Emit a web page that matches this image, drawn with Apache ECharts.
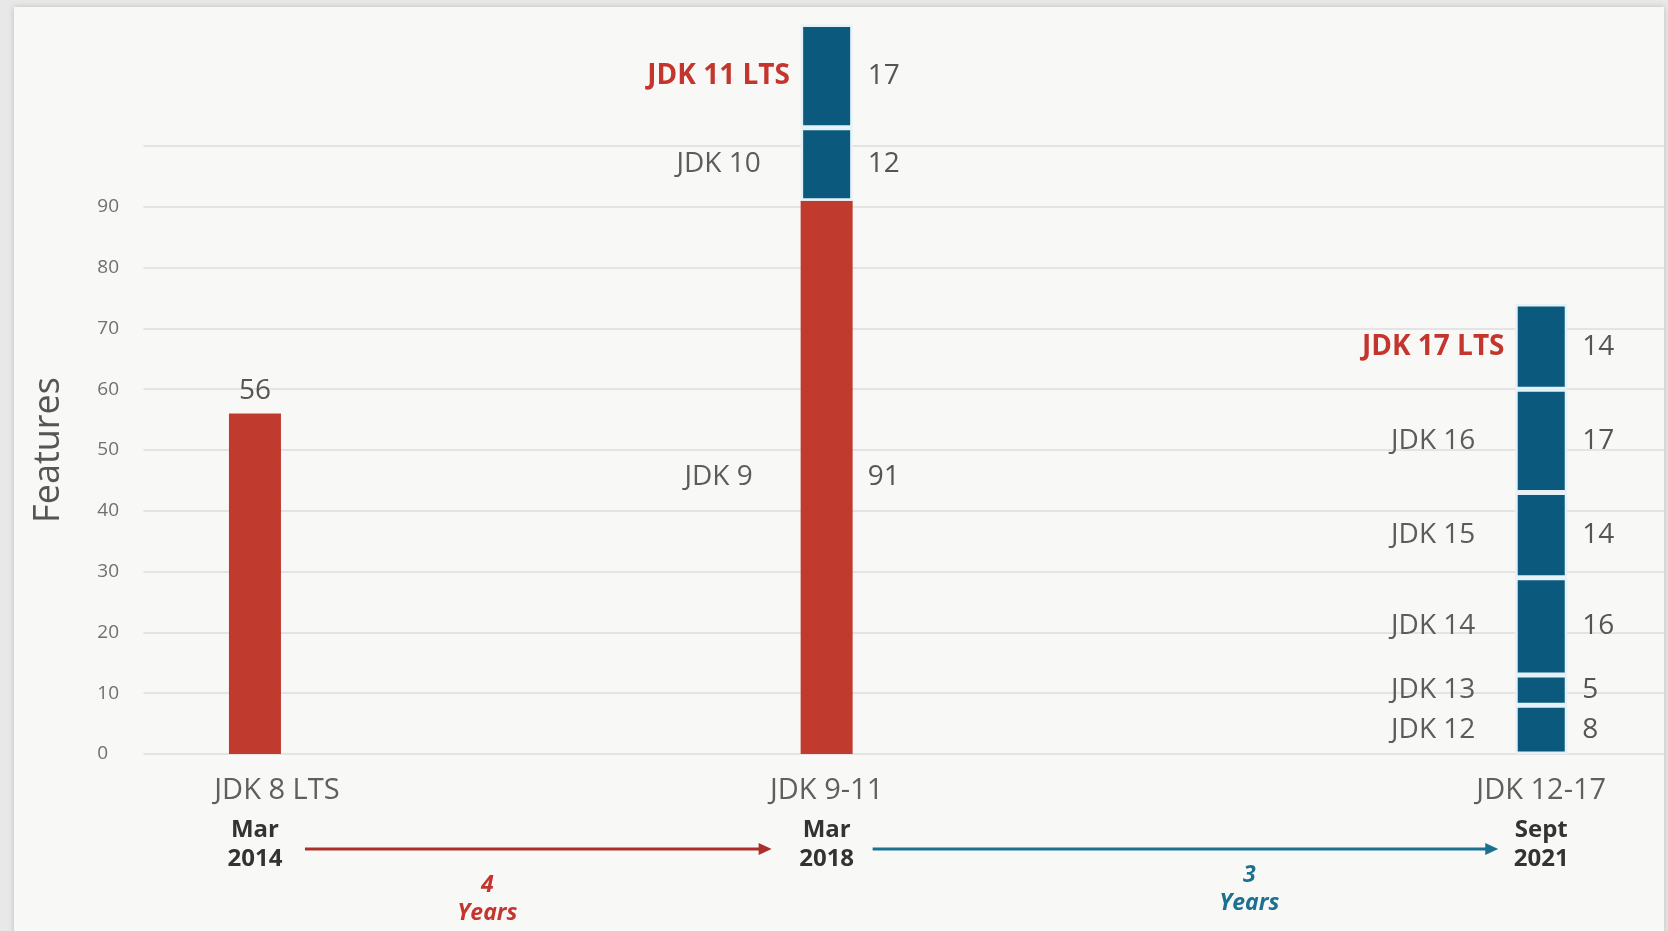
<!DOCTYPE html>
<html>
<head>
<meta charset="utf-8">
<script src="https://cdn.jsdelivr.net/npm/echarts@6/dist/echarts.min.js"></script>
<style>
  html, body { margin: 0; padding: 0; width: 1668px; height: 931px; background: #e8e8e8; overflow: hidden; }
  #card { position: absolute; left: 14px; top: 7px; width: 1650px; height: 930px; background: #f8f8f7; box-shadow: 0 0 6px rgba(0,0,0,0.18); }
  #chart { position: absolute; left: 0; top: 0; width: 1668px; height: 931px; }
</style>
</head>
<body>
<div id="card"></div>
<div id="chart"></div>
<script>
// ---------------- data ----------------
const groups = ['JDK 8 LTS', 'JDK 9-11', 'JDK 12-17'];
const groupMonths = ['Mar', 'Mar', 'Sept'];
const groupYears = ['2014', '2018', '2021'];
const releaseNames = ['JDK 8', 'JDK 9', 'JDK 10', 'JDK 11 LTS', 'JDK 12', 'JDK 13', 'JDK 14', 'JDK 15', 'JDK 16', 'JDK 17 LTS'];
const releaseGroup = [0, 1, 1, 1, 2, 2, 2, 2, 2, 2];
const featureCounts = [56, 91, 12, 17, 8, 5, 16, 14, 17, 14];
const gapYears = ['4', '3'];
const gapUnit = 'Years';
const yAxisName = 'Features';
const yTickLabels = ['0', '10', '20', '30', '40', '50', '60', '70', '80', '90'];

// ---------------- layout / style ----------------
const FONT = '"Open Sans", "Noto Sans", sans-serif';
const RED = '#c13a2e';
const BLUE = '#0b5a7e';
const TEAL = '#1b718f';
const groupSlots = [0, 4, 9];          // uneven spacing of the three groups along the axis
const slotCount = 10;
const redBars = new Set(['JDK 8', 'JDK 9']);

const axisCats = [];
for (let i = 0; i < slotCount; i++) axisCats.push('');
groups.forEach((g, i) => { axisCats[groupSlots[i]] = g; });

function seriesData(i) {
  const arr = new Array(slotCount).fill('-');
  arr[groupSlots[releaseGroup[i]]] = featureCounts[i];
  return arr;
}

const series = [];
releaseNames.forEach((name, i) => {
  const isRed = redBars.has(name);
  const isLTS = /LTS/.test(name);
  const single = releaseNames.filter((n, j) => releaseGroup[j] === releaseGroup[i]).length === 1;
  series.push({
    name: name,
    type: 'bar',
    xAxisIndex: 1, yAxisIndex: 1,
    stack: 'bars',
    barWidth: 52,
    barGap: '-100%',
    data: seriesData(i),
    itemStyle: isRed ? { color: RED } : { color: BLUE, borderColor: '#e4f2f7', borderWidth: 2.5 },
    label: single ? {
      show: true, position: 'top', distance: 8,
      formatter: '{c}', fontFamily: FONT, fontSize: 28, color: '#555'
    } : {
      show: true, position: 'left', distance: 82, align: 'center',
      formatter: name,
      fontFamily: FONT, fontSize: 28,
      fontWeight: isLTS ? 'bold' : 'normal',
      color: isLTS ? '#c4352d' : '#5c5c5c'
    },
    emphasis: { disabled: true },
    silent: true
  });
  if (!single) {
    series.push({
      name: name + ' value',
      type: 'bar',
      xAxisIndex: 1, yAxisIndex: 1,
      stack: 'values',
      barWidth: 52,
      barGap: '-100%',
      data: seriesData(i),
      itemStyle: { color: 'rgba(0,0,0,0)' },
      label: {
        show: true, position: 'right', distance: 15,
        formatter: '{c}', fontFamily: FONT, fontSize: 28, color: '#555'
      },
      emphasis: { disabled: true },
      silent: true
    });
  }
});

const chart = echarts.init(document.getElementById('chart'), null, { renderer: 'canvas' });

const option = {
  backgroundColor: 'transparent',
  animation: false,
  grid: [
    { left: 143.3, right: 4, top: 146, bottom: 177 },
    { left: 183.5, right: 55.3, top: 24.4, bottom: 177 }
  ],
  xAxis: [
    { gridIndex: 0, type: 'value', min: 0, max: 1, show: false },
    {
      gridIndex: 1, type: 'category', data: axisCats,
      axisLine: { show: false }, axisTick: { show: false },
      axisLabel: {
        interval: 0, margin: 12,
        formatter: function (v) {
          const g = groups.indexOf(v);
          if (g < 0) return '';
          const cStyle = g === 0 ? 'c0' : 'c';
          return '{' + cStyle + '|' + v + '}\n{d|' + groupMonths[g] + '}\n{d|' + groupYears[g] + '}';
        },
        rich: {
          c: { fontFamily: FONT, fontSize: 29, color: '#5f5f5f', lineHeight: 50 },
          c0: { fontFamily: FONT, fontSize: 29, color: '#5f5f5f', lineHeight: 50, padding: [0, 0, 0, 44] },
          d: { fontFamily: FONT, fontSize: 24, fontWeight: 'bold', color: '#333', lineHeight: 29 }
        }
      }
    }
  ],
  yAxis: [
    {
      gridIndex: 0, type: 'value', min: 0, max: 100, interval: 10,
      name: yAxisName, nameLocation: 'middle', nameRotate: 90, nameGap: 77,
      nameTextStyle: { fontFamily: FONT, fontSize: 36, color: '#555', padding: [0, 0, 0, 0] },
      axisLine: { show: false }, axisTick: { show: false },
      axisLabel: {
        margin: 46, align: 'left',
        fontFamily: FONT, fontSize: 19, color: '#707070', padding: [4, 0, 0, 0],
        formatter: function (v) { const s = String(v); return yTickLabels.indexOf(s) >= 0 ? s : ''; }
      },
      splitLine: { show: true, lineStyle: { color: '#dedede', width: 1.5 } }
    },
    { gridIndex: 1, type: 'value', min: 0, max: 120, show: false, splitLine: { show: false } }
  ],
  series: series
};
chart.setOption(option);

// timeline arrows under the axis, positioned from the category axis
function cx(g) { return chart.convertToPixel({ xAxisIndex: 1 }, groupSlots[g]); }
const base = chart.convertToPixel({ yAxisIndex: 1 }, 0);
const ay = base + 95;
const c0 = cx(0), c1 = cx(1), c2 = cx(2);
function arrow(x1, x2, color) {
  return [
    { type: 'line', shape: { x1: x1, y1: ay, x2: x2 - 10, y2: ay }, style: { stroke: color, lineWidth: 3 }, silent: true },
    { type: 'polygon', shape: { points: [[x2, ay], [x2 - 13, ay - 6], [x2 - 13, ay + 6]] }, style: { fill: color }, silent: true }
  ];
}
function gapLabel(x, y, num, color) {
  return [
    { type: 'text', x: x, y: y, style: { text: num, fill: color, font: 'italic bold 23px ' + FONT, textAlign: 'center', textVerticalAlign: 'middle' }, silent: true },
    { type: 'text', x: x, y: y + 28, style: { text: gapUnit, fill: color, font: 'italic bold 23px ' + FONT, textAlign: 'center', textVerticalAlign: 'middle' }, silent: true }
  ];
}
const graphics = []
  .concat(arrow(c0 + 50, c1 - 55, '#ab302b'))
  .concat(arrow(c1 + 46, c2 - 43, TEAL))
  .concat(gapLabel(c0 + (c1 - c0) * 0.4065, base + 131, gapYears[0], '#c4352d'))
  .concat(gapLabel(c1 + (c2 - c1) * 0.5915, base + 121, gapYears[1], TEAL));
chart.setOption({ graphic: graphics });
</script>
</body>
</html>
